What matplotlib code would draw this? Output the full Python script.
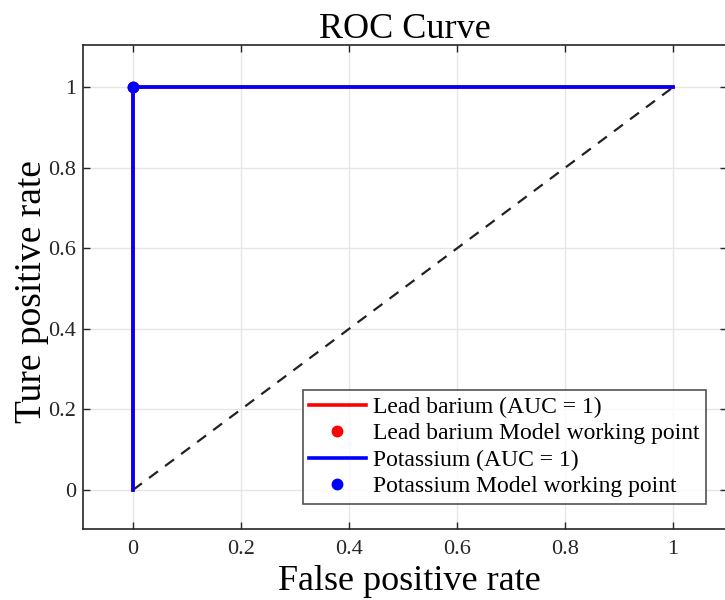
import matplotlib
matplotlib.use("Agg")
import matplotlib.pyplot as plt

plt.rcParams["font.family"] = ["Liberation Serif", "DejaVu Serif"]

# ROC curves (both classes are perfect, so the lines overlap)
lead_fpr = [0, 0, 1]
lead_tpr = [0, 1, 1]
pot_fpr = [0, 0, 1]
pot_tpr = [0, 1, 1]
# model working points
lead_point = (0, 1)
pot_point = (0, 1)
# chance line
chance = [0, 1]

xticks = [0, 0.2, 0.4, 0.6, 0.8, 1]
yticks = [0, 0.2, 0.4, 0.6, 0.8, 1]
tick_labels = ["0", "0.2", "0.4", "0.6", "0.8", "1"]

fig = plt.figure(figsize=(7.25, 6), dpi=100)
# axes right edge runs slightly past the figure, as in the reference crop
ax = fig.add_axes([83 / 725, 1 - 529 / 600, 644 / 725, 484 / 600])

ax.plot(lead_fpr, lead_tpr, color="red", lw=2.6, label="Lead barium (AUC = 1)", zorder=3)
ax.plot(*lead_point, "o", color="red", ms=7.5, label="Lead barium Model working point", zorder=4)
ax.plot(pot_fpr, pot_tpr, color="blue", lw=2.6, label="Potassium (AUC = 1)", zorder=5)
ax.plot(*pot_point, "o", color="blue", ms=7.5, label="Potassium Model working point", zorder=6)
ax.plot(chance, chance, "--", color="#222222", lw=1.6, dashes=(5, 4), zorder=2)

ax.set_xlim(-0.0926, 1.1)
ax.set_ylim(-0.097, 1.105)
ax.set_xticks(xticks)
ax.set_xticklabels(tick_labels)
ax.set_yticks(yticks)
ax.set_yticklabels(tick_labels)
ax.tick_params(direction="in", length=5, width=1, colors="#262626", labelsize=16,
               top=True, right=True)
ax.tick_params(axis="x", pad=8)
ax.tick_params(axis="y", pad=5)
ax.grid(True, color="#e6e6e6", lw=1)
ax.set_axisbelow(True)
for s in ax.spines.values():
    s.set_color("#262626")
    s.set_linewidth(1.2)

ax.set_title("ROC Curve", fontsize=26, pad=5)
ax.set_xlabel("False positive rate", fontsize=26)
ax.xaxis.set_label_coords(0.5 + 4 / 644, -0.125)
ax.xaxis.label.set_va("baseline")
ax.set_ylabel("Ture positive rate", fontsize=27)
ax.yaxis.set_label_coords(-0.053, 0.49)

leg = ax.legend(loc="lower right", bbox_to_anchor=((706 - 83) / 644, (529 - 504) / 484),
                fontsize=17, frameon=True, fancybox=False, edgecolor="#262626",
                borderaxespad=0, handlelength=2.4, handletextpad=0.3,
                labelspacing=0.21, borderpad=0.28)
leg.get_frame().set_linewidth(1.2)

plt.savefig("out.png", dpi=100)
